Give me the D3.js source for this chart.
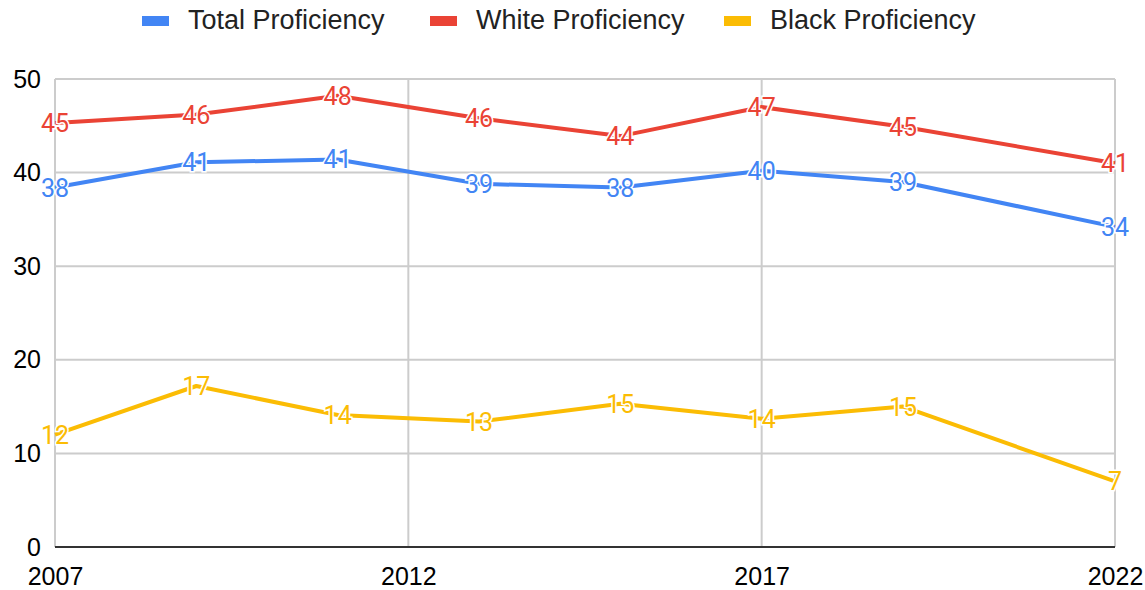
<!DOCTYPE html>
<html lang="en">
<head>
    <meta charset="UTF-8">
    <title>Proficiency</title>
    <style>
        body, html {
            margin: 0;
            padding: 0;
            background-color: #fff;
            font-family: Arial, "Liberation Sans", sans-serif;
        }
    </style>
</head>
<body>
    <svg id="svg" width="1145" height="590"></svg>
    <script src="https://d3js.org/d3.v7.min.js"></script>
    <script>
        const years = [2007, 2009, 2011, 2013, 2015, 2017, 2019, 2022]
        const total = [38.4, 41.1, 41.4, 38.8, 38.4, 40.2, 39.0, 34.2]
        const white = [45.3, 46.2, 48.2, 45.8, 43.9, 47.0, 44.9, 41.0]
        const black = [12.0, 17.2, 14.1, 13.4, 15.3, 13.7, 15.0, 7.0]
        const seriesNames = ['Total Proficiency', 'White Proficiency', 'Black Proficiency']
        const colors = ['#4285F4', '#EA4335', '#FBBC04']
        const xTicks = [2007, 2012, 2017, 2022]
        const yTicks = [0, 10, 20, 30, 40, 50]

        const series = [total, white, black].map((vals, i) => ({
            name: seriesNames[i],
            color: colors[i],
            values: vals.map((v, j) => ({ year: years[j], value: v }))
        }))

        const margin = { top: 79, right: 30, bottom: 43, left: 55 }
        const W = 1145, H = 590
        const axisFont = 'Arial, "Liberation Sans", sans-serif'
        const labelFont = 'Roboto, sans-serif'

        const xscale = d3.scaleLinear()
            .domain([2007, 2022])
            .range([margin.left, W - margin.right])

        const yscale = d3.scaleLinear()
            .domain([0, 50])
            .range([H - margin.bottom, margin.top])

        const svg = d3.select('#svg')

        // grid lines
        svg.append('g')
            .selectAll('line')
            .data(yTicks)
            .enter()
            .append('line')
            .attr('x1', xscale(2007))
            .attr('x2', xscale(2022))
            .attr('y1', d => yscale(d))
            .attr('y2', d => yscale(d))
            .attr('stroke', '#cccccc')
            .attr('stroke-width', 2)

        svg.append('g')
            .selectAll('line')
            .data(xTicks)
            .enter()
            .append('line')
            .attr('x1', d => xscale(d))
            .attr('x2', d => xscale(d))
            .attr('y1', yscale(50))
            .attr('y2', yscale(0))
            .attr('stroke', '#cccccc')
            .attr('stroke-width', 2)

        // baseline
        svg.append('line')
            .attr('x1', xscale(2007))
            .attr('x2', xscale(2022))
            .attr('y1', yscale(0))
            .attr('y2', yscale(0))
            .attr('stroke', '#333333')
            .attr('stroke-width', 2)

        // axes labels
        const leftAxis = d3.axisLeft(yscale).tickValues(yTicks).tickSize(0).tickPadding(14)
        const yAxisG = svg.append('g')
            .attr('transform', `translate(${margin.left}, 0)`)
            .call(leftAxis)
        yAxisG.select('.domain').remove()
        yAxisG.selectAll('text')
            .attr('font-size', '25px')
            .attr('font-family', axisFont)
            .attr('fill', '#000')

        const bottomAxis = d3.axisBottom(xscale).tickValues(xTicks).tickSize(0).tickPadding(20).tickFormat(d3.format('d'))
        const xAxisG = svg.append('g')
            .attr('transform', `translate(0, ${yscale(0)})`)
            .call(bottomAxis)
        xAxisG.select('.domain').remove()
        xAxisG.selectAll('text')
            .attr('font-size', '25px')
            .attr('font-family', axisFont)
            .attr('fill', '#000')

        // lines
        const line = d3.line()
            .x(d => xscale(d.year))
            .y(d => yscale(d.value))

        svg.append('g')
            .selectAll('path')
            .data(series)
            .enter()
            .append('path')
            .attr('d', d => line(d.values))
            .attr('fill', 'none')
            .attr('stroke', d => d.color)
            .attr('stroke-width', 4)
            .attr('stroke-linejoin', 'round')

        // data labels
        series.forEach(s => {
            svg.append('g')
                .selectAll('text')
                .data(s.values)
                .enter()
                .append('text')
                .attr('x', d => xscale(d.year))
                .attr('y', d => yscale(d.value))
                .attr('text-anchor', 'middle')
                .attr('dy', '0.36em')
                .attr('font-size', '25px')
                .attr('font-family', labelFont)
                .attr('fill', s.color)
                .attr('stroke', '#fff')
                .attr('stroke-width', 3)
                .attr('paint-order', 'stroke')
                .text(d => Math.round(d.value))
        })

        // legend
        const legendX = [142, 430, 724]
        const legend = svg.append('g')
            .selectAll('g')
            .data(series)
            .enter()
            .append('g')
            .attr('transform', (d, i) => `translate(${legendX[i]}, 21)`)
        legend.append('rect')
            .attr('x', 0)
            .attr('y', -5)
            .attr('width', 27)
            .attr('height', 10)
            .attr('fill', d => d.color)
        legend.append('text')
            .attr('x', 46)
            .attr('y', 8)
            .attr('font-size', '27px')
            .attr('font-family', axisFont)
            .attr('fill', '#222')
            .text(d => d.name)
    </script>
</body>
</html>
